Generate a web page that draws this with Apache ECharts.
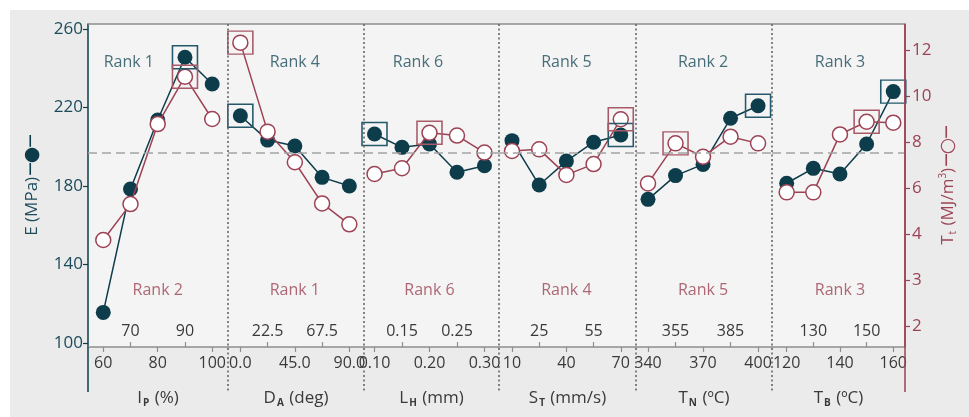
<!DOCTYPE html>
<html><head><meta charset="utf-8">
<script src="https://cdn.jsdelivr.net/npm/echarts@6/dist/echarts.min.js"></script>
<style>
html,body{margin:0;padding:0;background:#fff;}
#bg{position:absolute;left:10px;top:10px;width:959px;height:407px;background:#ebebeb;}
#main{position:absolute;left:0;top:0;width:969px;height:417px;}
</style></head><body><div id="bg"></div><div id="main"></div>
<script>
// ---- data ----
const xValues = [
  [60, 70, 80, 90, 100],
  [0, 22.5, 45, 67.5, 90],
  [0.10, 0.15, 0.20, 0.25, 0.30],
  [10, 25, 40, 55, 70],
  [340, 355, 370, 385, 400],
  [120, 130, 140, 150, 160]
];
const eValues = [
  [115.6, 178.5, 213.6, 245.6, 232.0],
  [215.8, 203.4, 200.4, 184.4, 180.0],
  [206.5, 199.7, 201.4, 187.0, 190.3],
  [203.1, 180.5, 192.7, 202.3, 206.0],
  [173.2, 185.3, 191.0, 214.5, 220.9],
  [181.4, 189.0, 186.1, 201.4, 228.1]
];
const tValues = [
  [3.74, 5.30, 8.78, 10.84, 9.00],
  [12.32, 8.45, 7.12, 5.33, 4.42],
  [6.61, 6.86, 8.40, 8.28, 7.54],
  [7.61, 7.68, 6.57, 7.04, 8.99],
  [6.20, 7.94, 7.36, 8.23, 7.94],
  [5.81, 5.81, 8.33, 8.88, 8.84]
];
const boxE = [3, 0, 0, 4, 4, 4];   // index of boxed E point per panel
const boxT = [3, 0, 2, 4, 1, 3];   // index of boxed Tt point per panel
const meanE = 197;
const rankE = ['Rank 1', 'Rank 4', 'Rank 6', 'Rank 5', 'Rank 2', 'Rank 3'];
const rankT = ['Rank 2', 'Rank 1', 'Rank 6', 'Rank 4', 'Rank 5', 'Rank 3'];
const rankXTop = [69.4, 45, 0.179, 40, 370, 140];
const rankXBot = [80, 45, 0.20, 40, 370, 140];
const rankYTop = 243.2, rankYBot = 127;
const xBottomTicks = [[60, 80, 100], [0, 45, 90], [0.10, 0.20, 0.30], [10, 40, 70], [340, 370, 400], [120, 140, 160]];
const xBottomLabels = [['60', '80', '100'], ['0.0', '45.0', '90.0'], ['0.10', '0.20', '0.30'], ['10', '40', '70'], ['340', '370', '400'], ['120', '140', '160']];
const xTopTicks = [[70, 90], [22.5, 67.5], [0.15, 0.25], [25, 55], [355, 385], [130, 150]];
const xTopLabels = [['70', '90'], ['22.5', '67.5'], ['0.15', '0.25'], ['25', '55'], ['355', '385'], ['130', '150']];
const xNameMain = ['I', 'D', 'L', 'S', 'T', 'T'];
const xNameSub = ['P', 'A', 'H', 'T', 'N', 'B'];
const xNameUnit = [' (%)', ' (deg)', ' (mm)', ' (mm/s)', ' (ºC)', ' (ºC)'];
const eTicks = [100, 140, 180, 220, 260];
const eTickLabels = ['100', '140', '180', '220', '260'];
const tTicks = [0, 2, 4, 6, 8, 10, 12];
const tTickLabels = ['2', '3', '4', '6', '8', '10', '12'];

// ---- layout / style ----
const B = [88, 228, 364, 499, 636, 772, 905];
const TOP = 24, AXIS_Y = 347, EXT_Y = 392, H = 417;
const xMin = [54.4, -10.2, 0.0809, 2.83, 333.45, 114.5];
const xMax = [105.8, 102.1, 0.3264, 78.4, 407.6, 164.4];
const eMin = 97.96, eMax = 262.55;
const tMin = -0.913, tMax = 13.13;
const TEAL = '#0d3c4a', TEAL_TXT = '#1b4b5a', MAROON = '#9c4254', GRAY = '#8e8e8e', TXT = '#3a3a3a';
const FONT = 'Open Sans';

function mapLabel(ticks, labels) {
  return function (v) {
    let best = 0;
    for (let k = 1; k < ticks.length; k++) if (Math.abs(ticks[k] - v) < Math.abs(ticks[best] - v)) best = k;
    return labels[best];
  };
}

const grid = [], xAxis = [], yAxis = [], series = [];
for (let i = 0; i < 6; i++) {
  grid.push({left: B[i], width: B[i + 1] - B[i], top: TOP, bottom: H - AXIS_Y, show: true,
    backgroundColor: '#f4f4f4', borderWidth: 0});
  xAxis.push({
    type: 'value', gridIndex: i, min: xMin[i], max: xMax[i], position: 'bottom',
    axisLine: {show: true, onZero: false, lineStyle: {color: GRAY, width: 1.5}},
    axisTick: {show: true, customValues: xBottomTicks[i], length: 5, lineStyle: {color: GRAY, width: 1.2}},
    axisLabel: {customValues: xBottomTicks[i], formatter: mapLabel(xBottomTicks[i], xBottomLabels[i]),
      color: TXT, fontSize: 16, fontFamily: FONT, margin: 8},
    splitLine: {show: false},
    name: '{m|' + xNameMain[i] + '}{s|' + xNameSub[i] + '}{m|' + xNameUnit[i] + '}',
    nameLocation: 'middle', nameGap: 41,
    nameTextStyle: {rich: {
      m: {fontSize: 17, fontFamily: FONT, color: TXT},
      s: {fontSize: 10, fontFamily: FONT, color: TXT, fontWeight: 'bold', padding: [10, 1, 0, 1]}
    }}
  });
  xAxis.push({
    type: 'value', gridIndex: i, min: xMin[i], max: xMax[i], position: 'bottom',
    axisLine: {show: false, onZero: false},
    axisTick: {show: true, inside: true, customValues: xTopTicks[i], length: 5, lineStyle: {color: GRAY, width: 1.2}},
    axisLabel: {inside: true, customValues: xTopTicks[i], formatter: mapLabel(xTopTicks[i], xTopLabels[i]),
      color: TXT, fontSize: 16, fontFamily: FONT, margin: 8},
    splitLine: {show: false}
  });
  yAxis.push({
    type: 'value', gridIndex: i, min: eMin, max: eMax, position: 'left', show: i === 0,
    axisLine: {show: true, onZero: false, lineStyle: {color: TEAL, width: 1.5}},
    axisTick: {show: true, customValues: eTicks, length: 5, lineStyle: {color: TEAL, width: 1.2}},
    axisLabel: {customValues: eTicks, formatter: mapLabel(eTicks, eTickLabels), color: TEAL_TXT,
      fontSize: 17, fontFamily: FONT, margin: 5},
    splitLine: {show: false},
    name: '{t|E (MPa)}{sp| }{g|─●─}', nameLocation: 'middle', nameRotate: 90, nameGap: 46,
    nameTextStyle: {rich: {
      t: {fontSize: 17, fontFamily: FONT, color: TEAL_TXT},
      sp: {fontSize: 8},
      g: {fontSize: 19, fontFamily: 'DejaVu Sans', color: TEAL}
    }}
  });
  yAxis.push({
    type: 'value', gridIndex: i, min: tMin, max: tMax, position: 'right', show: i === 5,
    axisLine: {show: true, onZero: false, lineStyle: {color: MAROON, width: 1.5}},
    axisTick: {show: true, customValues: tTicks, length: 5, lineStyle: {color: MAROON, width: 1.2}},
    axisLabel: {customValues: tTicks, formatter: mapLabel(tTicks, tTickLabels), color: MAROON,
      fontSize: 17, fontFamily: FONT, margin: 7},
    splitLine: {show: false},
    name: '{t|T}{s|t}{t| (MJ/m}{p|3}{t|)}{sp| }{g|─○─}', nameLocation: 'middle', nameRotate: 90, nameGap: 33,
    nameTextStyle: {rich: {
      t: {fontSize: 17, fontFamily: FONT, color: MAROON},
      s: {fontSize: 10, fontFamily: FONT, color: MAROON, padding: [10, 1, 0, 1]},
      p: {fontSize: 10, fontFamily: FONT, color: MAROON, padding: [0, 0, 10, 0]},
      sp: {fontSize: 8},
      g: {fontSize: 19, fontFamily: 'DejaVu Sans', color: MAROON}
    }}
  });

  const eData = xValues[i].map((x, k) => [x, eValues[i][k]]);
  const tData = xValues[i].map((x, k) => [x, tValues[i][k]]);
  series.push({
    type: 'line', xAxisIndex: 2 * i, yAxisIndex: 2 * i, data: eData, z: 3,
    symbol: 'circle', symbolSize: 15, itemStyle: {color: TEAL}, lineStyle: {color: TEAL, width: 1.5},
    markLine: {silent: true, symbol: 'none', label: {show: false},
      lineStyle: {color: '#a3a3a3', type: [9, 5], width: 1.6}, data: [{yAxis: meanE}]},
    markPoint: {symbol: 'rect', symbolSize: [25, 23], label: {show: false},
      itemStyle: {color: 'rgba(0,0,0,0)', borderColor: '#23596a', borderWidth: 1.5},
      data: [{coord: eData[boxE[i]]}]}
  });
  series.push({
    type: 'line', xAxisIndex: 2 * i, yAxisIndex: 2 * i + 1, data: tData, z: 4,
    symbol: 'circle', symbolSize: 15, itemStyle: {color: '#ffffff', borderColor: MAROON, borderWidth: 1.5},
    lineStyle: {color: MAROON, width: 1.5},
    markPoint: {symbol: 'rect', symbolSize: [25, 23], label: {show: false},
      itemStyle: {color: 'rgba(0,0,0,0)', borderColor: '#a85a68', borderWidth: 1.5},
      data: [{coord: tData[boxT[i]]}]}
  });
  series.push({
    type: 'scatter', xAxisIndex: 2 * i, yAxisIndex: 2 * i, symbolSize: 0, z: 2,
    itemStyle: {color: 'rgba(0,0,0,0)'},
    label: {show: true, position: 'inside', fontSize: 16, fontFamily: FONT},
    data: [
      {value: [rankXTop[i], rankYTop], label: {formatter: rankE[i], color: TEAL_TXT}},
      {value: [rankXBot[i], rankYBot], label: {formatter: rankT[i], color: MAROON}}
    ]
  });
}

const graphic = [
  {type: 'line', shape: {x1: B[0], y1: TOP, x2: B[6], y2: TOP}, style: {stroke: GRAY, lineWidth: 1.5}, z: 10},
  {type: 'line', shape: {x1: B[0], y1: AXIS_Y, x2: B[0], y2: EXT_Y}, style: {stroke: TEAL, lineWidth: 1.5}, z: 10},
  {type: 'line', shape: {x1: B[6], y1: TOP, x2: B[6], y2: EXT_Y}, style: {stroke: MAROON, lineWidth: 1.5}, z: 10}
];
for (let i = 1; i < 6; i++) {
  graphic.push({type: 'line', shape: {x1: B[i], y1: TOP, x2: B[i], y2: EXT_Y},
    style: {stroke: '#666666', lineWidth: 1.6, lineDash: [2, 2.5]}, z: 10});
}

const chart = echarts.init(document.getElementById('main'), null, {renderer: 'canvas'});
chart.setOption({
  backgroundColor: 'transparent', animation: false,
  grid, xAxis, yAxis, series, graphic
});
</script></body></html>
